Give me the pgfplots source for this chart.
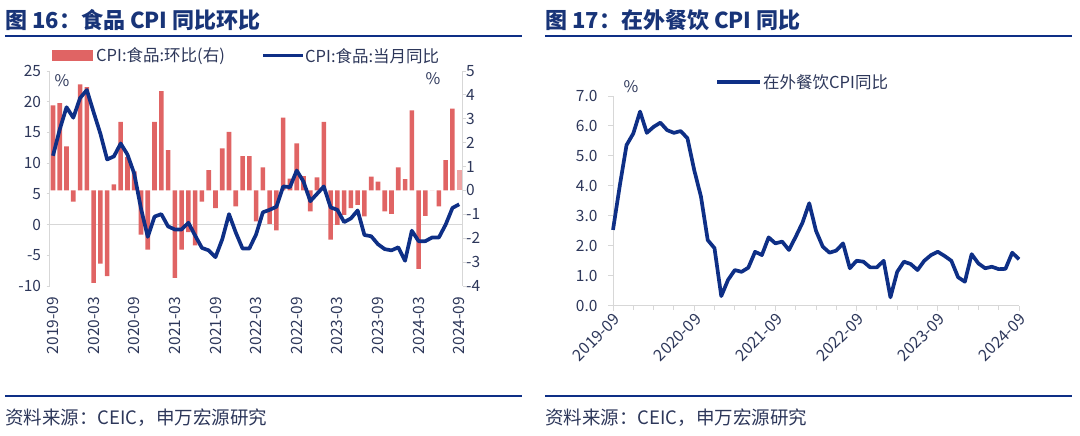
\documentclass[border=0pt]{standalone}
\usepackage{pgfplots}
\usepackage{pgfplotstable}
\pgfplotsset{compat=1.18}
\usepackage{fontspec}
\setmainfont{Noto Sans CJK SC}
\definecolor{navy}{RGB}{14,47,134}
\definecolor{barred}{RGB}{224,100,100}
\definecolor{barlight}{RGB}{238,165,165}
\definecolor{titlec}{RGB}{24,52,120}
\definecolor{txt}{RGB}{45,55,90}
\definecolor{axgray}{RGB}{215,215,215}

\pgfplotstableread{
i yoy mom
0 11.2 3.56
1 15.5 3.66
2 19.1 1.85
3 17.4 -0.47
4 20.6 4.44
5 21.9 4.33
6 18.3 -3.87
7 14.8 -3.06
8 10.6 -3.59
9 11.1 0.25
10 13.2 2.87
11 11.4 1.40
12 8.3 0.80
13 2.6 -1.85
14 -2.0 -2.48
15 1.3 2.87
16 1.7 4.16
17 -0.3 1.69
18 -0.8 -3.66
19 -0.8 -2.48
20 0.3 -1.75
21 -1.8 -2.30
22 -3.8 -0.47
23 -4.2 0.85
24 -5.3 -0.74
25 -2.4 1.76
26 1.7 2.45
27 -1.3 -0.67
28 -3.9 1.44
29 -3.9 1.44
30 -1.6 -1.30
31 2.0 0.97
32 2.4 -1.40
33 2.9 -1.67
34 6.2 3.05
35 6.1 0.50
36 8.8 1.97
37 7.0 0.60
38 3.8 -0.88
39 5.0 0.55
40 6.2 2.87
41 2.8 -2.06
42 2.4 -1.44
43 0.4 -1.02
44 1.0 -0.74
45 2.3 -0.60
46 -1.7 -1.09
47 -1.9 0.58
48 -3.2 0.37
49 -4.0 -0.88
50 -4.2 -0.98
51 -3.7 0.97
52 -5.9 0.47
53 -1.0 3.35
54 -2.7 -3.28
55 -2.7 -1.06
56 -2.1 0.00
57 -2.1 -0.67
58 0.0 1.27
59 2.7 3.43
60 3.3 0.85
}\foodtable

\pgfplotstableread{
i v
0 2.53
1 4.00
2 5.36
3 5.75
4 6.48
5 5.77
6 5.97
7 6.11
8 5.86
9 5.77
10 5.83
11 5.59
12 4.53
13 3.64
14 2.19
15 1.92
16 0.32
17 0.86
18 1.19
19 1.13
20 1.27
21 1.80
22 1.69
23 2.28
24 2.08
25 2.14
26 1.86
27 2.30
28 2.77
29 3.42
30 2.50
31 1.97
32 1.77
33 1.84
34 2.08
35 1.25
36 1.50
37 1.47
38 1.28
39 1.28
40 1.50
41 0.28
42 1.13
43 1.47
44 1.39
45 1.19
46 1.50
47 1.69
48 1.80
49 1.66
50 1.50
51 0.95
52 0.80
53 1.72
54 1.41
55 1.25
56 1.30
57 1.22
58 1.23
59 1.77
60 1.55
}\dinetable

\begin{document}
\begin{tikzpicture}
\useasboundingbox (0pt,0pt) rectangle (1080pt,436pt);
% titles and rules
\node[anchor=west, inner sep=0pt, text=titlec] at (5pt,416pt) {\fontsize{22}{25}\selectfont\bfseries 图 16：食品 CPI 同比环比};
\node[anchor=west, inner sep=0pt, text=titlec] at (545pt,416pt) {\fontsize{22}{25}\selectfont\bfseries 图 17：在外餐饮 CPI 同比};
\draw[navy, line width=2pt] (5pt,400pt) -- (522pt,400pt);
\draw[navy, line width=2pt] (545pt,400pt) -- (1072pt,400pt);
\draw[navy, line width=2pt] (5pt,40pt) -- (522pt,40pt);
\draw[navy, line width=2pt] (545pt,40pt) -- (1072pt,40pt);
\node[anchor=west, inner sep=0pt, text=txt] at (5pt,18pt) {\fontsize{18.5}{21}\selectfont 资料来源：CEIC，申万宏源研究};
\node[anchor=west, inner sep=0pt, text=txt] at (545pt,18pt) {\fontsize{18.5}{21}\selectfont 资料来源：CEIC，申万宏源研究};

% left legend
\fill[barred] (52pt,375pt) rectangle (93pt,386pt);
\node[anchor=west, inner sep=0pt, text=txt] at (96pt,380pt) {\fontsize{16.5}{19}\selectfont CPI:食品:环比(右)};
\draw[navy, line width=3.8pt] (263pt,380.5pt) -- (303pt,380.5pt);
\node[anchor=west, inner sep=0pt, text=txt] at (305pt,380pt) {\fontsize{16.5}{19}\selectfont CPI:食品:当月同比};
\node[text=txt, inner sep=0pt] at (62pt,355pt) {\fontsize{16}{18}\selectfont \%};
\node[text=txt, inner sep=0pt] at (433pt,357pt) {\fontsize{16}{18}\selectfont \%};

% right legend
\draw[navy, line width=3.8pt] (717pt,354pt) -- (760pt,354pt);
\node[anchor=west, inner sep=0pt, text=txt] at (763pt,354pt) {\fontsize{16.5}{19}\selectfont 在外餐饮CPI同比};
\node[text=txt, inner sep=0pt] at (631pt,349pt) {\fontsize{16}{18}\selectfont \%};

% left chart: bars (right axis)
\begin{axis}[
  at={(49.6pt,150pt)}, anchor=south west, scale only axis,
  width=413pt, height=215pt,
  xmin=-0.5, xmax=60.5, ymin=-4, ymax=5,
  axis y line*=right, axis x line*=bottom,
  x axis line style={draw=none},
  y axis line style={axgray, line width=0.8pt, -},
  xtick={0,6,...,60},
  xticklabels={2019-09,2020-03,2020-09,2021-03,2021-09,2022-03,2022-09,2023-03,2023-09,2024-03,2024-09},
  xtick style={draw=none},
  xticklabel style={rotate=90, anchor=east, inner sep=0pt, font=\fontsize{15.5}{17}\selectfont, text=txt},
  xticklabel shift=8pt,
  ytick={-4,-3,...,5},
  ytick style={axgray, line width=0.8pt},
  major tick length=3pt, tick align=outside,
  yticklabel style={font=\fontsize{15.5}{18}\selectfont, text=txt, xshift=-3pt},
  /pgf/number format/assume math mode=true,
  extra y ticks={-1.428571}, extra y tick labels={},
  extra y tick style={grid=major, major grid style={axgray, line width=0.8pt}, tick style={draw=none}},
  clip=false,
]
\addplot[ybar, bar width=4.6pt, bar shift=0pt, fill=barred, draw=none, restrict x to domain=0:59.5] table[x=i, y=mom] {\foodtable};
\addplot[ybar, bar width=4.6pt, bar shift=0pt, fill=barlight, draw=none] coordinates {(60,0.85)};
\end{axis}

% left chart: line (left axis)
\begin{axis}[
  at={(49.6pt,150pt)}, anchor=south west, scale only axis,
  width=413pt, height=215pt,
  xmin=-0.5, xmax=60.5, ymin=-10, ymax=25,
  axis y line*=left, axis x line=none,
  y axis line style={axgray, line width=0.8pt, -},
  ytick={-10,-5,...,25},
  ytick style={axgray, line width=0.8pt},
  major tick length=3pt, tick align=outside,
  yticklabel style={font=\fontsize{15.5}{18}\selectfont, text=txt, xshift=-2pt},
  /pgf/number format/assume math mode=true,
  clip=false,
]
\addplot[navy, line width=3.7pt, line join=round] table[x=i, y=yoy] {\foodtable};
\end{axis}

% right chart
\begin{axis}[
  at={(613pt,130.3pt)}, anchor=south west, scale only axis,
  width=406pt, height=209.7pt,
  xmin=0, xmax=60, ymin=0, ymax=7,
  axis x line*=bottom, axis y line*=left,
  axis line style={axgray, line width=1pt, -},
  xtick={0,12,...,60},
  xticklabels={2019-09,2020-09,2021-09,2022-09,2023-09,2024-09},
  minor xtick={3,6,9,15,18,21,27,30,33,39,42,45,51,54,57},
  ytick={0,1,...,7},
  tick style={axgray, line width=1pt},
  major tick length=5pt, minor tick length=4pt, tick align=outside,
  xticklabel style={rotate=45, anchor=north east, inner sep=1pt, font=\fontsize{16}{18}\selectfont, text=txt},
  yticklabel style={font=\fontsize{15.5}{18}\selectfont, text=txt, xshift=-7pt},
  yticklabel={\pgfmathprintnumber[fixed, fixed zerofill, precision=1]{\tick}},
  /pgf/number format/assume math mode=true,
  clip=false,
]
\addplot[navy, line width=3.7pt, line join=round] table[x=i, y=v] {\dinetable};
\end{axis}
\end{tikzpicture}
\end{document}
